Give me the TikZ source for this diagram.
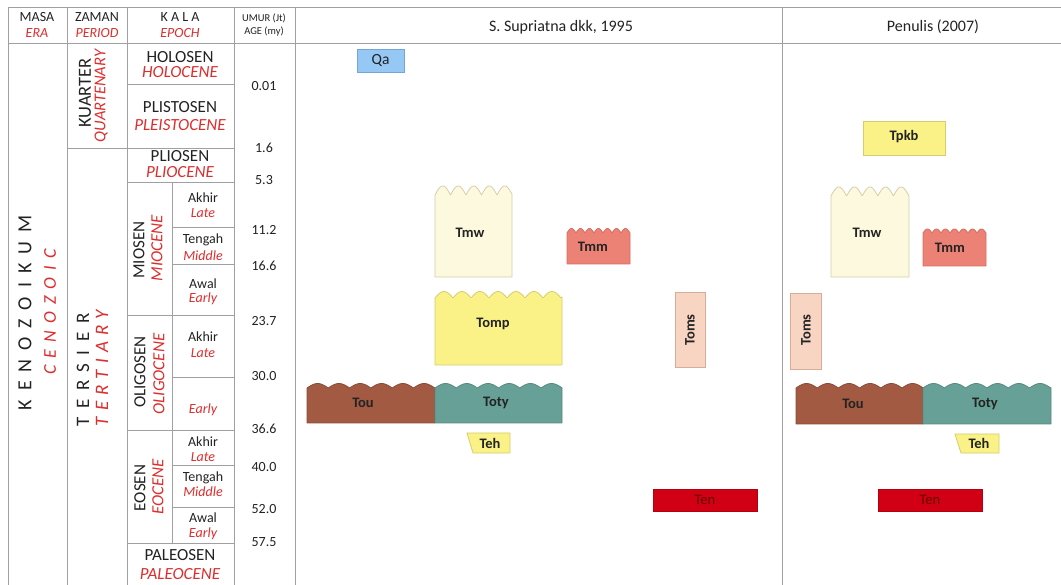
\documentclass[tikz,border=0pt]{standalone}
\usepackage{fontspec}
\setmainfont{Carlito}
\newfontfamily\spacedA[LetterSpace=45]{Carlito}
\newfontfamily\spacedB[LetterSpace=40]{Carlito}
\newfontfamily\spacedC[LetterSpace=33]{Carlito}
\definecolor{linegray}{RGB}{160,160,160}
\definecolor{txt}{RGB}{35,35,35}
\definecolor{redtxt}{RGB}{222,45,45}
\definecolor{qafill}{RGB}{150,200,245}
\definecolor{qadraw}{RGB}{115,165,215}
\definecolor{tmwfill}{RGB}{252,249,222}
\definecolor{tmwdraw}{RGB}{212,207,170}
\definecolor{tmmfill}{RGB}{236,130,118}
\definecolor{tmmdraw}{RGB}{215,110,98}
\definecolor{yelfill}{RGB}{250,242,135}
\definecolor{yeldraw}{RGB}{215,205,110}
\definecolor{tomsfill}{RGB}{248,212,195}
\definecolor{tomsdraw}{RGB}{215,172,152}
\definecolor{toufill}{RGB}{162,90,66}
\definecolor{toudraw}{RGB}{140,75,55}
\definecolor{totyfill}{RGB}{102,160,150}
\definecolor{totydraw}{RGB}{85,140,130}
\definecolor{tenfill}{RGB}{210,0,20}
\definecolor{tendraw}{RGB}{180,0,15}
\definecolor{tentxt}{RGB}{100,0,0}
\newcommand\wavybox[8]{%
  \filldraw[fill=#7, draw=#8, line width=0.8pt, line join=round]
    (#1,#4) -- (#1,#3) --
    plot[domain=#1:#2, samples=140] (\x,{#3-#5*abs(sin((\x-#1)/#6*180))})
    -- (#2,#4) -- cycle;}
\tikzset{
  tline/.style={draw=linegray, line width=0.9pt},
  hd/.style={font=\fontsize{14}{14}\selectfont, text=txt, inner sep=0pt},
  hdr/.style={font=\fontsize{14}{14}\selectfont\itshape, text=redtxt, inner sep=0pt},
  hdsmall/.style={font=\fontsize{10.5}{10.5}\selectfont, text=txt, inner sep=0pt},
  colhd/.style={font=\fontsize{16}{16}\selectfont, text=txt, inner sep=0pt},
  ep/.style={font=\fontsize{17}{17}\selectfont, text=txt, inner sep=0pt},
  epr/.style={font=\fontsize{17}{17}\selectfont\itshape, text=redtxt, inner sep=0pt},
  sub/.style={font=\fontsize{14}{14}\selectfont, text=txt, inner sep=0pt},
  subr/.style={font=\fontsize{14}{14}\selectfont\itshape, text=redtxt, inner sep=0pt},
  age/.style={font=\fontsize{14}{14}\selectfont, text=txt, inner sep=0pt},
  fm/.style={font=\fontsize{14.5}{14.5}\selectfont\bfseries, text=txt, inner sep=0pt},
  boxfm/.style={line width=0.8pt},
}
\begin{document}
\begin{tikzpicture}[x=1pt,y=-1pt]
\useasboundingbox (0,0) rectangle (1061,585);
\fill[white] (0,0) rectangle (1061,585);
% ---------------- table lines
\draw[tline] (8,7) -- (1061,7);
\draw[tline] (8,43) -- (1061,43);
\foreach \xx in {8,67,127,234,295,782} \draw[tline] (\xx,7) -- (\xx,585);
\draw[tline] (127,84) -- (234,84);
\draw[tline] (67,148) -- (234,148);
\draw[tline] (127,182) -- (234,182);
\draw[tline] (172,182) -- (172,543);
\foreach \yy in {227,264,377,465,507} \draw[tline] (172,\yy) -- (234,\yy);
\foreach \yy in {315,430,543} \draw[tline] (127,\yy) -- (234,\yy);
% ---------------- headers
\node[hd] (hmasa) at (37,17) {MASA};
\node[hdr] (hera) at (37,33) {ERA};
\node[hd] (hzaman) at (97,17) {ZAMAN};
\node[hdr] (hperiod) at (97,33) {PERIOD};
\node[hd] (hkala) at (180,17) {K A L A};
\node[hdr] (hepoch) at (180,33) {EPOCH};
\node[hdsmall] (humur) at (264,18) {UMUR (Jt)};
\node[hdsmall] (hage) at (264,32) {AGE (my)};
\node[colhd] (hsup) at (561,27) {S. Supriatna dkk, 1995};
\node[colhd] (hpen) at (933,27) {Penulis (2007)};
% ---------------- era / period (rotated)
\node[inner sep=0pt, text=txt, rotate=90, font=\spacedA\fontsize{20}{20}\selectfont] (keno) at (25,313) {KENOZOIKUM};
\node[inner sep=0pt, text=redtxt, rotate=90, font=\spacedB\fontsize{18}{18}\selectfont\itshape] (ceno) at (50,312) {CENOZOIC};
\node[inner sep=0pt, text=txt, rotate=90, font=\fontsize{18.5}{18.5}\selectfont] (kuar) at (85,93) {KUARTER};
\node[inner sep=0pt, text=redtxt, rotate=90, font=\fontsize{16.5}{16.5}\selectfont\itshape] (quar) at (101,96) {QUARTENARY};
\node[inner sep=0pt, text=txt, rotate=90, font=\spacedA\fontsize{19}{19}\selectfont] (ters) at (83,370) {TERSIER};
\node[inner sep=0pt, text=redtxt, rotate=90, font=\spacedC\fontsize{19}{19}\selectfont\itshape] (tert) at (102,368) {TERTIARY};
% ---------------- epochs
\node[ep] (holo1) at (180,57) {HOLOSEN};
\node[epr] (holo2) at (180,72) {HOLOCENE};
\node[ep] (plei1) at (180,107) {PLISTOSEN};
\node[epr] (plei2) at (180,125) {PLEISTOCENE};
\node[ep] (plio1) at (180,156) {PLIOSEN};
\node[epr] (plio2) at (180,172) {PLIOCENE};
\node[ep] (pale1) at (180,555) {PALEOSEN};
\node[epr] (pale2) at (180,574) {PALEOCENE};
\node[ep, rotate=90] (mio1) at (139,250) {MIOSEN};
\node[epr, rotate=90] (mio2) at (157,248) {MIOCENE};
\node[ep, rotate=90] (oli1) at (140,372) {OLIGOSEN};
\node[epr, rotate=90] (oli2) at (159,374) {OLIGOCENE};
\node[ep, rotate=90] (eo1) at (140,488) {EOSEN};
\node[epr, rotate=90] (eo2) at (158,487) {EOCENE};
% ---------------- sub-epochs
\node[sub] (ma1) at (203,198) {Akhir};
\node[subr] (ma2) at (203,213) {Late};
\node[sub] (mt1) at (203,240) {Tengah};
\node[subr] (mt2) at (203,256) {Middle};
\node[sub] (mw1) at (203,284) {Awal};
\node[subr] (mw2) at (203,299) {Early};
\node[sub] (oa1) at (203,337) {Akhir};
\node[subr] (oa2) at (203,353) {Late};
\node[subr] (oe2) at (203,410) {Early};
\node[sub] (ea1) at (203,442) {Akhir};
\node[subr] (ea2) at (203,457) {Late};
\node[sub] (et1) at (203,478) {Tengah};
\node[subr] (et2) at (203,492) {Middle};
\node[sub] (ew1) at (203,518) {Awal};
\node[subr] (ew2) at (203,534) {Early};
% ---------------- ages
\node[age] (a1) at (264,86) {0.01};
\node[age] (a2) at (264,148) {1.6};
\node[age] (a3) at (264,180) {5.3};
\node[age] (a4) at (264,230) {11.2};
\node[age] (a5) at (264,266) {16.6};
\node[age] (a6) at (264,321) {23.7};
\node[age] (a7) at (264,376) {30.0};
\node[age] (a8) at (264,429) {36.6};
\node[age] (a9) at (264,467) {40.0};
\node[age] (a10) at (264,509) {52.0};
\node[age] (a11) at (264,542) {57.5};
% ---------------- S. Supriatna column
\filldraw[boxfm, fill=qafill, draw=qadraw] (357,49) rectangle (404,72);
\node[inner sep=0pt, text=txt, font=\fontsize{15.5}{15.5}\selectfont] (qa) at (380.5,60.5) {Qa};
\wavybox{435}{512}{195}{277}{9}{15.5}{tmwfill}{tmwdraw}
\node[fm] (tmwL) at (470,233) {Tmw};
\wavybox{567}{630}{233}{264}{4.5}{9}{tmmfill}{tmmdraw}
\node[fm] (tmmL) at (593,247) {Tmm};
\wavybox{435}{562}{298}{365}{6.5}{18}{yelfill}{yeldraw}
\node[fm] (tompL) at (493,324) {Tomp};
\filldraw[boxfm, fill=tomsfill, draw=tomsdraw] (675,292) rectangle (705,367);
\node[fm, rotate=90] (tomsL) at (690,330) {Toms};
\wavybox{307}{435}{388}{423}{4.5}{21.3}{toufill}{toudraw}
\node[fm] (touL) at (363,403) {Tou};
\wavybox{435}{562}{388}{423}{4.5}{21.2}{totyfill}{totydraw}
\node[fm] (totyL) at (496,403) {Toty};
\filldraw[boxfm, fill=yelfill, draw=yeldraw] (467,433) -- (510,433) -- (510,453) -- (473,453) -- cycle;
\node[fm] (tehL) at (490,443) {Teh};
\filldraw[boxfm, fill=tenfill, draw=tendraw] (653,489) rectangle (757,511);
\node[fm, text=tentxt, font=\fontsize{14.5}{14.5}\selectfont] (tenL) at (705,500) {Ten};
% ---------------- Penulis column
\filldraw[boxfm, fill=yelfill, draw=yeldraw] (863,121) rectangle (945,155);
\node[fm] (tpkbR) at (904,137) {Tpkb};
\wavybox{831}{909}{196}{277}{9}{15.6}{tmwfill}{tmwdraw}
\node[fm] (tmwR) at (867,233) {Tmw};
\wavybox{923}{986}{233}{266}{4}{9}{tmmfill}{tmmdraw}
\node[fm] (tmmR) at (950,248) {Tmm};
\filldraw[boxfm, fill=tomsfill, draw=tomsdraw] (790,293) rectangle (821,369);
\node[fm, rotate=90] (tomsR) at (806,330) {Toms};
\wavybox{796}{923}{388}{424}{4.5}{21.2}{toufill}{toudraw}
\node[fm] (touR) at (853,404) {Tou};
\wavybox{923}{1051}{388}{424}{4.5}{21.3}{totyfill}{totydraw}
\node[fm] (totyR) at (985,404) {Toty};
\filldraw[boxfm, fill=yelfill, draw=yeldraw] (955,434) -- (999,434) -- (999,453) -- (961,453) -- cycle;
\node[fm] (tehR) at (979,443) {Teh};
\filldraw[boxfm, fill=tenfill, draw=tendraw] (878,489) rectangle (982,511);
\node[fm, text=tentxt, font=\fontsize{14.5}{14.5}\selectfont] (tenR) at (930,500) {Ten};
\end{tikzpicture}
\end{document}
